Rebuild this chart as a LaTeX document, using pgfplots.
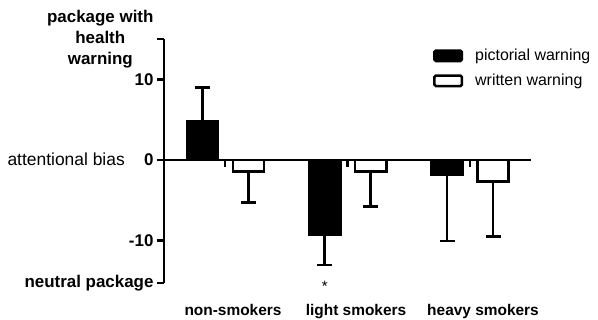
\documentclass[border=0pt]{standalone}
\usepackage{pgfplots}
\pgfplotsset{compat=1.18}
\usepackage{fontspec}
\setmainfont{Liberation Sans}
\begin{document}
\begin{tikzpicture}
\useasboundingbox (-164bp,-37bp) rectangle (434bp,283bp);
\pgfplotsset{
  myleg/.style={legend image code/.code={\draw[##1, line width=2.5bp, rounded corners=1.5bp] (0bp,-5.25bp) rectangle (27.5bp,5.25bp);}},
}
\begin{axis}[
  at={(0,0)}, anchor=south west,
  scale only axis, width=367bp, height=244bp,
  xmin=0.5, xmax=3.5, ymin=-15.31, ymax=15.06,
  axis y line=left, axis x line=middle,
  hide obscured x ticks=false, hide obscured y ticks=false,
  axis line style={-, line width=2.5bp, black},
  xtick={1,2,3}, xticklabels={},
  ytick={-15.31,-10,0,10,15.06},
  yticklabels={neutral package,-10,0,10,{package with\\health\\warning}},
  yticklabel style={align=center, font=\bfseries\fontsize{17}{21}\selectfont},
  tick align=outside,
  major tick length=7bp,
  tick style={line width=2.5bp, black},
  clip=false,
  legend style={at={(0.733,0.967)}, anchor=north west, draw=none, fill=none,
     inner sep=0pt, row sep=8bp,
     cells={anchor=west},
     /tikz/every odd column/.append style={column sep=10bp}},
]
\addplot[ybar, bar width=0.254, bar shift=0pt, fill=black, draw=black, line width=2.5bp, myleg,
  error bars/.cd, y dir=both, y explicit,
  error bar style={line width=2.7bp, black},
  error mark options={rotate=90, mark size=7.5bp, line width=2.7bp, black}]
  coordinates {(0.814,4.82) += (0,4.2) -= (0,0)
               (1.814,-9.27) += (0,0) -= (0,3.8)
               (2.814,-1.84) += (0,0) -= (0,8.24)};
\addlegendentry{\fontsize{16}{19}\selectfont pictorial warning}
\addplot[ybar, bar width=0.254, bar shift=0pt, fill=white, draw=black, line width=2.5bp, myleg,
  error bars/.cd, y dir=both, y explicit,
  error bar style={line width=2.7bp, black},
  error mark options={rotate=90, mark size=7.5bp, line width=2.7bp, black}]
  coordinates {(1.19,-1.43) += (0,0) -= (0,3.85)
               (2.19,-1.43) += (0,0) -= (0,4.4)
               (3.19,-2.68) += (0,0) -= (0,6.8)};
\addlegendentry{\fontsize{16}{19}\selectfont written warning}
\node[anchor=base east, inner sep=0pt, font=\fontsize{17.5}{19}\selectfont, xshift=-39bp, yshift=-6bp] at (axis cs:0.5,0) {attentional bias};
\node[anchor=base, inner sep=0pt, font=\fontsize{15}{18}\selectfont, yshift=-8.6bp] at (axis cs:1.814,-15.31) {*};
\node[anchor=base, inner sep=0pt, font=\bfseries\fontsize{15.5}{18}\selectfont, yshift=-32bp] at (axis cs:1.064,-15.31) {non-smokers};
\node[anchor=base, inner sep=0pt, font=\bfseries\fontsize{15.5}{18}\selectfont, yshift=-32bp] at (axis cs:2.07,-15.31) {light smokers};
\node[anchor=base, inner sep=0pt, font=\bfseries\fontsize{15.5}{18}\selectfont, yshift=-32bp] at (axis cs:3.108,-15.31) {heavy smokers};
\end{axis}
\end{tikzpicture}
\end{document}
